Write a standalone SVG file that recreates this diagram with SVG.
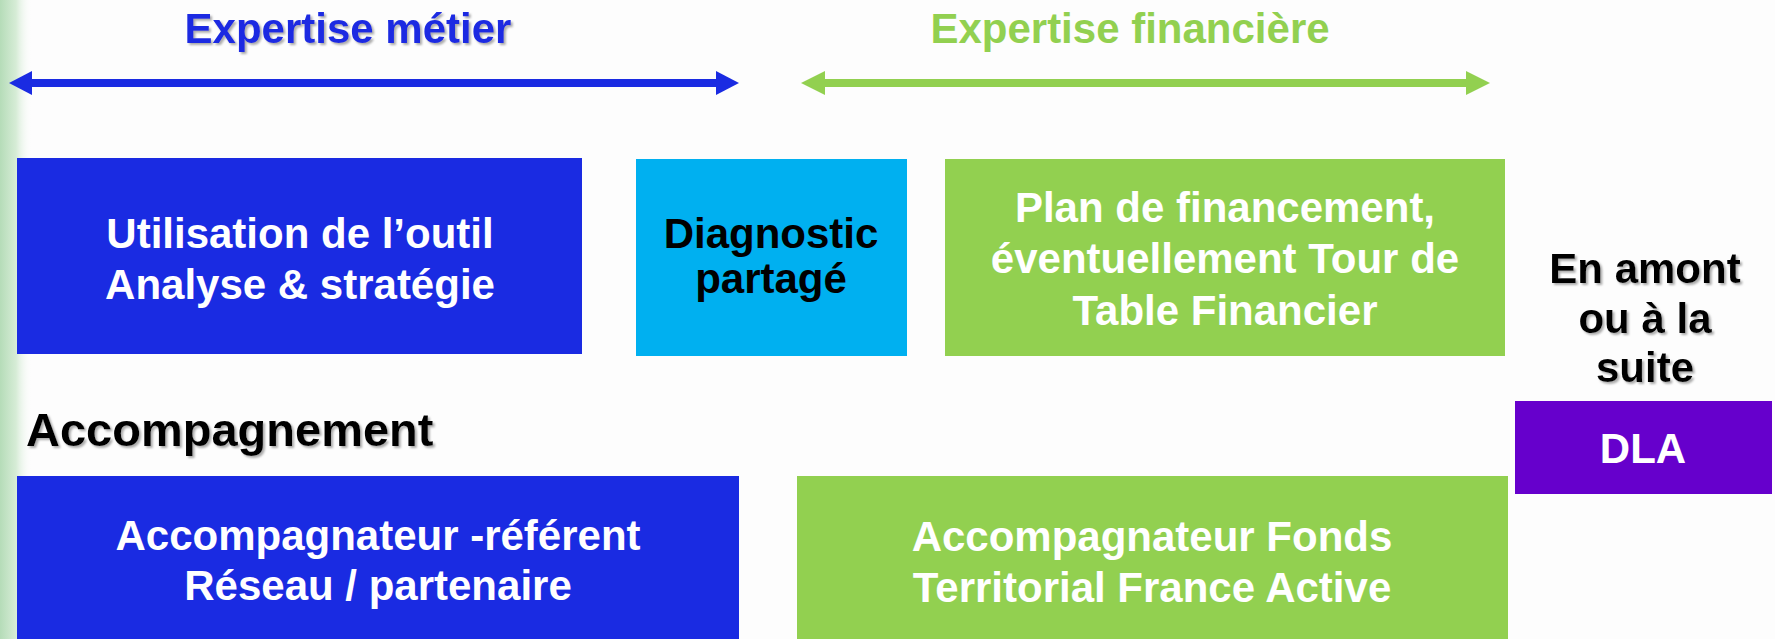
<svg xmlns="http://www.w3.org/2000/svg" width="1775" height="639" viewBox="0 0 1775 639">
<defs>
<linearGradient id="edge" x1="0" y1="0" x2="1" y2="0">
<stop offset="0" stop-color="#b5dcb8"/>
<stop offset="0.5" stop-color="#d6ecd6"/>
<stop offset="1" stop-color="#fdfdfd" stop-opacity="0"/>
</linearGradient>
<filter id="sh" x="-10%" y="-20%" width="120%" height="150%">
<feDropShadow dx="2" dy="2" stdDeviation="1.2" flood-color="#888888" flood-opacity="0.7"/>
</filter>
<marker id="hb" viewBox="0 0 24 24" refX="0" refY="12" markerWidth="24" markerHeight="24" markerUnits="userSpaceOnUse" orient="auto-start-reverse">
<path d="M0,0 L23,12 L0,24 Z" fill="#1a2be2"/>
</marker>
<marker id="hg" viewBox="0 0 24 24" refX="0" refY="12" markerWidth="24" markerHeight="24" markerUnits="userSpaceOnUse" orient="auto-start-reverse">
<path d="M0,0 L24,12 L0,24 Z" fill="#92d050"/>
</marker>
</defs>
<style>
text{font-family:"Liberation Sans",Arial,sans-serif;font-weight:bold;text-anchor:middle}
.w{fill:#ffffff;font-size:42px}
.k{fill:#000000;font-size:42px}
.blue{fill:#1a2be2}
.green{fill:#92d050}
.cyan{fill:#00b0f0}
.purple{fill:#6600cc}
</style>
<rect width="1775" height="639" fill="#fdfdfd"/>
<rect x="0" y="0" width="32" height="639" fill="url(#edge)"/>

<g id="connectors">
<line x1="32" y1="83" x2="716" y2="83" stroke="#1a2be2" stroke-width="8" marker-start="url(#hb)" marker-end="url(#hb)"/>
<line x1="825" y1="83" x2="1466" y2="83" stroke="#92d050" stroke-width="8" marker-start="url(#hg)" marker-end="url(#hg)"/>
</g>

<g id="title-metier">
<text x="348" y="43" font-size="42" fill="#1a2be2" filter="url(#sh)">Expertise métier</text>
</g>
<g id="title-financiere">
<text x="1130" y="43" font-size="42" fill="#92d050">Expertise financière</text>
</g>

<g id="node-outil">
<rect class="blue" x="17" y="158" width="565" height="196"/>
<text class="w" x="300" y="248">Utilisation de l’outil</text>
<text class="w" x="300" y="299">Analyse  &amp; stratégie</text>
</g>

<g id="node-diagnostic">
<rect class="cyan" x="636" y="159" width="271" height="197"/>
<text class="k" x="771" y="248">Diagnostic</text>
<text class="k" x="771" y="293">partagé</text>
</g>

<g id="node-plan">
<rect class="green" x="945" y="159" width="560" height="197"/>
<text class="w" x="1225" y="222">Plan de financement,</text>
<text class="w" x="1225" y="273">éventuellement Tour de</text>
<text class="w" x="1225" y="325">Table Financier</text>
</g>

<g id="label-amont">
<text class="k" x="1645" y="283" filter="url(#sh)">En amont</text>
<text class="k" x="1645" y="333" filter="url(#sh)">ou à la</text>
<text class="k" x="1645" y="382" filter="url(#sh)">suite</text>
</g>

<g id="node-dla">
<rect class="purple" x="1515" y="401" width="257" height="93"/>
<text class="w" x="1643" y="463">DLA</text>
</g>

<g id="label-accompagnement">
<text x="26" y="446" font-size="47" fill="#000000" style="text-anchor:start" filter="url(#sh)">Accompagnement</text>
</g>

<g id="node-referent">
<rect class="blue" x="17" y="476" width="722" height="163"/>
<text class="w" x="378" y="550">Accompagnateur -référent</text>
<text class="w" x="378" y="600">Réseau / partenaire</text>
</g>

<g id="node-fonds">
<rect class="green" x="797" y="476" width="711" height="163"/>
<text class="w" x="1152" y="551">Accompagnateur Fonds</text>
<text class="w" x="1152" y="602">Territorial France Active</text>
</g>
</svg>
